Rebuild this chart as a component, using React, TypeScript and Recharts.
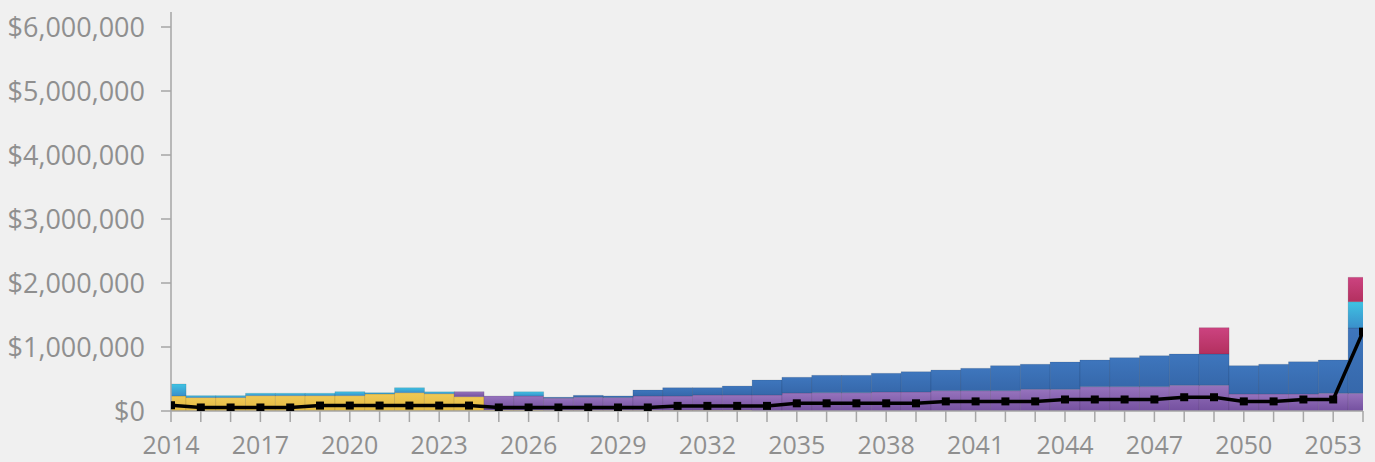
import React from 'react';
import { ComposedChart, Bar, Line, XAxis, YAxis } from 'recharts';

const years = [
  2014, 2015, 2016, 2017, 2018, 2019, 2020, 2021, 2022, 2023,
  2024, 2025, 2026, 2027, 2028, 2029, 2030, 2031, 2032, 2033,
  2034, 2035, 2036, 2037, 2038, 2039, 2040, 2041, 2042, 2043,
  2044, 2045, 2046, 2047, 2048, 2049, 2050, 2051, 2052, 2053, 2054,
];

const yellowSeries = [
  234000, 210000, 210000, 240000, 240000, 240000, 240000, 266000, 286000, 270000,
  224000, 15000, 15000, 10000, 10000, 10000, 10000, 10000, 10000, 10000,
  0, 0, 0, 0, 0, 0, 0, 0, 0, 0,
  0, 0, 0, 0, 0, 0, 0, 0, 0, 0, 0,
];

const purpleSeries = [
  0, 0, 0, 0, 0, 0, 0, 0, 0, 0,
  78000, 219000, 219000, 190000, 205000, 200000, 224000, 224000, 240000, 240000,
  250000, 281000, 286000, 286000, 297000, 297000, 317000, 317000, 317000, 339000,
  339000, 380000, 380000, 380000, 402000, 402000, 266000, 266000, 266000, 277000, 277000,
];

const blueSeries = [
  0, 0, 0, 0, 0, 0, 0, 0, 0, 0,
  0, 0, 0, 15000, 30000, 25000, 94000, 130000, 114000, 140000,
  234000, 246000, 272000, 272000, 292000, 317000, 323000, 350000, 391000, 391000,
  427000, 417000, 453000, 484000, 489000, 489000, 442000, 464000, 504000, 520000, 1020000,
];

const cyanSeries = [
  188000, 30000, 30000, 37000, 37000, 37000, 62000, 20000, 78000, 30000,
  0, 0, 67000, 0, 0, 0, 0, 0, 0, 0,
  0, 0, 0, 0, 0, 0, 0, 0, 0, 0,
  0, 0, 0, 0, 0, 0, 0, 0, 0, 0, 411000,
];

const magentaSeries = [
  0, 0, 0, 0, 0, 0, 0, 0, 0, 0,
  0, 0, 0, 0, 0, 0, 0, 0, 0, 0,
  0, 0, 0, 0, 0, 0, 0, 0, 0, 0,
  0, 0, 0, 0, 0, 411000, 0, 0, 0, 0, 381000,
];

const lineSeries = [
  90000, 55000, 55000, 55000, 55000, 85000, 85000, 85000, 85000, 85000,
  85000, 55000, 55000, 55000, 55000, 55000, 55000, 80000, 80000, 80000,
  80000, 120000, 120000, 120000, 120000, 120000, 150000, 150000, 150000, 150000,
  180000, 180000, 180000, 180000, 215000, 215000, 150000, 150000, 180000, 180000, 1240000,
];

const yTicks = [0, 1000000, 2000000, 3000000, 4000000, 5000000, 6000000];
const xTickLabels = [2014, 2017, 2020, 2023, 2026, 2029, 2032, 2035, 2038, 2041, 2044, 2047, 2050, 2053];

const data = years.map((year, i) => ({
  year,
  yellow: yellowSeries[i],
  purple: purpleSeries[i],
  blue: blueSeries[i],
  cyan: cyanSeries[i],
  magenta: magentaSeries[i],
  total: lineSeries[i],
}));

const FONT = '"Open Sans", sans-serif';
const TEXT_COLOR = '#8f8f8f';
const AXIS_COLOR = '#a6a6a6';

const fmtMoney = (v: number) => '$' + v.toLocaleString('en-US');

const XTick = (props: any) => {
  const { x, y, payload } = props;
  if (!xTickLabels.includes(payload.value)) return <g />;
  return (
    <text x={x} y={y} dy={16} textAnchor="middle" fill={TEXT_COLOR} fontSize={25} fontFamily={FONT}>
      {payload.value}
    </text>
  );
};

const SquareDot = (props: any) => {
  const { cx, cy } = props;
  if (cx == null || cy == null) return <g />;
  return <rect x={cx - 4} y={cy - 4} width={8} height={8} fill="#000" />;
};

const barStroke = 'rgba(0,0,0,0.1)';

export default function App() {
  return (
    <div style={{ position: 'fixed', left: 0, top: 0, width: 1375, height: 462, background: '#f0f0f0' }}>
      <ComposedChart
        width={1375}
        height={462}
        data={data}
        margin={{ top: 12, right: 12, bottom: 0, left: 0 }}
        barCategoryGap={0}
        barGap={0}
      >
        <defs>
          <linearGradient id="gPurple" x1="0" y1="0" x2="0" y2="1">
            <stop offset="0%" stopColor="#9673bd" />
            <stop offset="100%" stopColor="#74509f" />
          </linearGradient>
          <linearGradient id="gBlue" x1="0" y1="0" x2="0" y2="1">
            <stop offset="0%" stopColor="#3e76bd" />
            <stop offset="100%" stopColor="#3668ab" />
          </linearGradient>
          <linearGradient id="gCyan" x1="0" y1="0" x2="0" y2="1">
            <stop offset="0%" stopColor="#3fc3e3" />
            <stop offset="100%" stopColor="#3a8fcb" />
          </linearGradient>
          <linearGradient id="gYellow" x1="0" y1="0" x2="0" y2="1">
            <stop offset="0%" stopColor="#efc957" />
            <stop offset="100%" stopColor="#e3b83e" />
          </linearGradient>
          <linearGradient id="gMagenta" x1="0" y1="0" x2="0" y2="1">
            <stop offset="0%" stopColor="#cc4380" />
            <stop offset="100%" stopColor="#b3305f" />
          </linearGradient>
        </defs>
        <XAxis
          dataKey="year"
          type="number"
          domain={[2014, 2054]}
          allowDataOverflow
          ticks={years}
          interval={0}
          tick={<XTick />}
          tickSize={11}
          tickMargin={16}
          height={51}
          stroke={AXIS_COLOR}
          tickLine={{ stroke: AXIS_COLOR, strokeWidth: 1.5 }}
          axisLine={{ stroke: AXIS_COLOR, strokeWidth: 1.5 }}
        />
        <YAxis
          type="number"
          domain={[0, 6234375]}
          allowDataOverflow
          ticks={yTicks}
          interval={0}
          width={171}
          tickFormatter={fmtMoney}
          tickSize={10}
          tickMargin={16}
          tick={{ fill: TEXT_COLOR, fontSize: 27, fontFamily: FONT }}
          stroke={AXIS_COLOR}
          tickLine={{ stroke: AXIS_COLOR, strokeWidth: 1.5 }}
          axisLine={{ stroke: AXIS_COLOR, strokeWidth: 1.5 }}
        />
        <Bar dataKey="yellow" stackId="a" fill="url(#gYellow)" stroke={barStroke} strokeWidth={1} isAnimationActive={false} />
        <Bar dataKey="purple" stackId="a" fill="url(#gPurple)" stroke={barStroke} strokeWidth={1} isAnimationActive={false} />
        <Bar dataKey="blue" stackId="a" fill="url(#gBlue)" stroke={barStroke} strokeWidth={1} isAnimationActive={false} />
        <Bar dataKey="cyan" stackId="a" fill="url(#gCyan)" stroke={barStroke} strokeWidth={1} isAnimationActive={false} />
        <Bar dataKey="magenta" stackId="a" fill="url(#gMagenta)" stroke={barStroke} strokeWidth={1} isAnimationActive={false} />
        <Line
          dataKey="total"
          type="linear"
          stroke="#000"
          strokeWidth={3.5}
          dot={<SquareDot />}
          activeDot={false}
          isAnimationActive={false}
        />
      </ComposedChart>
    </div>
  );
}
